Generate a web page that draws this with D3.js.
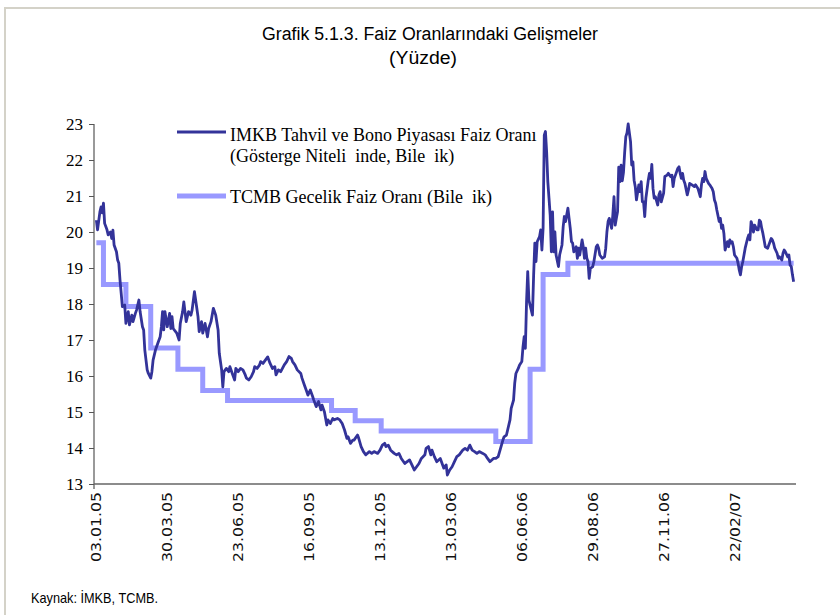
<!DOCTYPE html>
<meta charset="utf-8">
<html>

<head>
  <title>Grafik 5.1.3. Faiz Oranlarındaki Gelişmeler</title>
  <style>
    body { margin: 0; background: #fff; }
  </style>
</head>

<body>
  <!-- Load d3.js -->
  <script src="https://d3js.org/d3.v7.js"></script>

  <div id="my_dataviz"></div>

  <script>
    // x axis is a category axis of trading days (index from 03.01.05)
    var tickDays = [0, 60, 120, 180, 240, 300, 360, 420, 480, 540];
    var tickLabels = ["03.01.05", "30.03.05", "23.06.05", "16.09.05", "13.12.05",
      "13.03.06", "06.06.06", "29.08.06", "27.11.06", "22/02/07"];
    var yTicks = [13, 14, 15, 16, 17, 18, 19, 20, 21, 22, 23];

    // TCMB overnight rate (compounded): day where each level starts
    var tcmbDay = [0, 6, 25, 46, 69, 90, 111, 199, 219, 241, 338, 367, 378, 399, 590];
    var tcmbRate = [19.70, 18.54, 17.93, 16.78, 16.19, 15.60, 15.32, 15.04, 14.76, 14.47, 14.18, 16.19, 18.82, 19.13, 19.13];

    // IMKB bond market rate (benchmark, compounded)
    var imkbDay = [0, 1, 3, 4, 5, 6, 7, 9, 10, 12, 13, 14, 15, 17, 18, 19, 20, 21, 22, 24,
      25, 27, 28, 30, 31, 33, 34, 36, 37, 39, 40, 41, 43, 44, 46, 47, 48, 50, 52, 54,
      55, 56, 57, 58, 60, 62, 63, 64, 65, 68, 70, 71, 73, 74, 76, 78, 80, 81, 83, 85,
      86, 87, 89, 90, 92, 94, 95, 97, 99, 101, 103, 104, 106, 107, 108, 110, 112, 113, 115, 117,
      118, 120, 122, 124, 126, 127, 129, 131, 133, 134, 136, 138, 139, 141, 143, 145, 147, 149, 151, 152,
      154, 156, 159, 161, 163, 165, 166, 168, 170, 173, 174, 176, 178, 179, 181, 183, 184, 186, 188, 190,
      191, 193, 195, 196, 198, 200, 201, 204, 206, 208, 210, 212, 213, 215, 217, 218, 221, 222, 224, 226,
      228, 231, 233, 235, 238, 240, 242, 244, 245, 247, 249, 252, 254, 256, 258, 261, 263, 265, 267, 269,
      271, 273, 275, 278, 279, 281, 283, 284, 286, 288, 291, 293, 294, 296, 297, 299, 301, 303, 305, 307,
      310, 312, 314, 316, 318, 320, 322, 324, 327, 329, 331, 333, 336, 338, 340, 342, 344, 345, 347, 348,
      350, 351, 353, 354, 355, 357, 358, 360, 361, 362, 363, 364, 365, 366, 367, 369, 370, 371, 372, 373,
      375, 376, 377, 378, 379, 380, 381, 382, 383, 384, 385, 386, 387, 388, 389, 391, 392, 394, 395, 396,
      397, 399, 400, 401, 402, 403, 404, 406, 407, 408, 409, 411, 412, 413, 414, 415, 416, 417, 418, 420,
      421, 423, 424, 425, 426, 428, 430, 431, 432, 433, 434, 436, 437, 438, 439, 440, 441, 442, 443, 444,
      445, 446, 447, 448, 449, 450, 452, 453, 454, 455, 456, 457, 459, 460, 461, 462, 463, 464, 465, 467,
      468, 469, 470, 471, 472, 473, 475, 476, 477, 478, 480, 481, 483, 484, 486, 487, 488, 489, 490, 492,
      493, 494, 495, 496, 497, 498, 500, 501, 502, 504, 506, 507, 509, 511, 512, 513, 514, 515, 516, 518,
      519, 521, 522, 523, 524, 525, 527, 528, 529, 530, 531, 532, 534, 535, 536, 537, 538, 539, 540, 542,
      543, 544, 545, 546, 547, 548, 549, 551, 552, 553, 554, 555, 556, 557, 559, 560, 561, 562, 563, 564,
      565, 566, 568, 569, 570, 571, 572, 573, 574, 576, 577, 578, 579, 580, 581, 582, 583, 585, 586, 587,
      588, 589, 590];
    var imkbRate = [20.33, 20.06, 20.56, 20.70, 20.53, 20.80, 20.24, 20.06, 19.92, 20.00, 19.82, 20.05, 19.64, 19.45, 19.22, 19.13, 18.67, 18.30, 17.93, 17.97,
      17.46, 17.79, 17.42, 17.69, 17.51, 17.74, 17.83, 18.11, 17.79, 17.37, 17.28, 16.72, 16.17, 16.07, 15.94, 16.12, 16.44, 16.72, 16.91, 17.09,
      17.37, 17.79, 17.28, 17.79, 17.37, 17.74, 17.32, 17.65, 17.32, 17.19, 17.00, 17.46, 17.79, 18.06, 17.51, 17.79, 17.69, 17.83, 18.34, 17.88,
      17.65, 17.23, 17.51, 17.19, 17.46, 17.09, 17.32, 17.51, 17.88, 17.69, 17.28, 16.63, 16.17, 15.70, 16.12, 16.21, 16.12, 16.26, 16.07, 15.89,
      16.21, 16.12, 16.21, 16.17, 16.03, 15.94, 15.89, 15.98, 16.12, 16.26, 16.21, 16.30, 16.40, 16.35, 16.44, 16.53, 16.35, 16.21, 16.26, 16.03,
      16.17, 16.12, 16.31, 16.40, 16.54, 16.49, 16.40, 16.31, 16.17, 16.07, 15.94, 15.75, 15.57, 15.47, 15.61, 15.43, 15.33, 15.15, 15.29, 15.06,
      15.19, 15.00, 14.64, 14.78, 14.68, 14.82, 14.78, 14.82, 14.78, 14.68, 14.50, 14.27, 14.31, 14.13, 14.22, 14.22, 14.36, 14.27, 14.04, 13.90,
      13.81, 13.90, 13.85, 13.90, 13.85, 13.94, 14.08, 14.13, 14.04, 14.08, 13.94, 13.85, 13.81, 13.85, 13.71, 13.57, 13.62, 13.67, 13.53, 13.39,
      13.48, 13.57, 13.71, 13.81, 13.99, 14.04, 13.81, 13.94, 13.76, 13.62, 13.71, 13.53, 13.44, 13.53, 13.25, 13.39, 13.48, 13.62, 13.76, 13.81,
      13.94, 13.99, 13.94, 14.08, 13.94, 13.90, 13.85, 13.90, 13.85, 13.81, 13.71, 13.62, 13.71, 13.71, 13.76, 13.99, 14.22, 14.31, 14.36, 14.50,
      14.78, 15.10, 15.33, 15.80, 16.07, 16.21, 16.30, 16.40, 16.81, 17.09, 16.77, 18.06, 18.90, 18.11, 17.97, 17.69, 18.81, 19.69, 19.18, 19.73,
      19.87, 20.06, 19.50, 20.10, 22.69, 22.79, 22.23, 21.40, 20.94, 20.47, 19.45, 20.56, 19.45, 20.00, 19.36, 19.04, 19.36, 19.64, 20.15, 20.43,
      20.29, 20.66, 20.38, 20.10, 19.73, 19.69, 19.45, 19.59, 19.27, 19.55, 19.36, 19.78, 19.59, 19.27, 19.55, 19.27, 19.18, 18.71, 18.99, 19.04,
      19.18, 19.59, 19.64, 19.55, 19.36, 19.27, 19.31, 19.55, 20.00, 20.29, 20.38, 20.10, 20.47, 20.98, 20.19, 20.38, 20.56, 21.80, 21.40, 21.86,
      21.42, 21.65, 22.20, 22.65, 22.75, 23.00, 22.51, 21.86, 21.95, 21.44, 21.26, 20.89, 21.31, 21.12, 21.40, 20.84, 20.84, 20.43, 20.94, 21.44,
      21.63, 21.49, 21.88, 21.21, 20.94, 20.98, 20.75, 21.03, 21.12, 20.84, 21.08, 21.54, 21.58, 21.63, 21.54, 21.58, 21.26, 21.49, 21.58, 21.77,
      21.81, 21.63, 21.49, 21.63, 21.44, 21.35, 21.03, 21.17, 21.35, 21.31, 21.26, 21.31, 21.21, 20.98, 21.31, 21.49, 21.40, 21.68, 21.49, 21.35,
      21.31, 21.21, 21.12, 20.89, 20.80, 20.61, 20.29, 20.38, 20.10, 20.19, 19.96, 19.50, 19.73, 19.59, 19.78, 19.69, 19.73, 19.59, 19.36, 19.27,
      19.13, 18.94, 18.81, 19.04, 19.18, 19.36, 19.55, 19.82, 19.92, 19.78, 20.29, 20.19, 20.00, 20.19, 20.06, 20.06, 20.33, 20.29, 20.10, 19.96,
      19.78, 19.59, 19.55, 19.64, 19.73, 19.82, 19.78, 19.69, 19.55, 19.41, 19.27, 19.31, 19.27, 19.22, 19.41, 19.50, 19.45, 19.31, 19.36, 19.08,
      19.04, 18.81, 18.62];

    var width = 840, height = 615;

    var svg = d3.select("#my_dataviz")
      .append("svg")
      .attr("width", width)
      .attr("height", height)
      .style("display", "block");

    // outer frame of the page
    svg.append("rect")
      .attr("x", 5).attr("y", 8)
      .attr("width", 840).attr("height", 620)
      .attr("fill", "none")
      .attr("stroke", "#d4d2c8")
      .attr("stroke-width", 2);

    // scales
    var x = d3.scaleLinear().domain([-2, 592]).range([94, 796]);
    var y = d3.scaleLinear().domain([13, 23]).range([484, 124]);

    var narrowFont = "'Liberation Sans Narrow', 'Arial Narrow', 'Liberation Sans', sans-serif";

    // title
    svg.append("text")
      .attr("x", 430).attr("y", 40)
      .attr("text-anchor", "middle")
      .style("font-family", narrowFont)
      .style("font-size", "18px")
      .attr("textLength", 336).attr("lengthAdjust", "spacingAndGlyphs")
      .text("Grafik 5.1.3. Faiz Oranlarındaki Gelişmeler");
    svg.append("text")
      .attr("x", 423).attr("y", 64)
      .attr("text-anchor", "middle")
      .style("font-family", narrowFont)
      .style("font-size", "18px")
      .attr("textLength", 68).attr("lengthAdjust", "spacingAndGlyphs")
      .text("(Yüzde)");

    // Y axis
    var yAxis = svg.append("g")
      .attr("transform", "translate(94,0)")
      .call(d3.axisLeft(y).tickValues(yTicks).tickSize(5).tickPadding(6).tickFormat(d3.format("d")));
    yAxis.select(".domain").remove();
    yAxis.selectAll("line").attr("stroke", "#555");
    yAxis.selectAll("text")
      .style("font-family", "'Liberation Serif', 'Times New Roman', serif")
      .style("font-size", "17px")
      .attr("fill", "#000");
    svg.append("line")
      .attr("x1", 94).attr("x2", 94)
      .attr("y1", y(23)).attr("y2", y(13) + 5)
      .attr("stroke", "#555").attr("stroke-width", 1.2);

    // X axis
    svg.append("line")
      .attr("x1", 94).attr("x2", 796)
      .attr("y1", y(13)).attr("y2", y(13))
      .attr("stroke", "#666").attr("stroke-width", 1.5);
    svg.append("g")
      .selectAll("text")
      .data(tickDays)
      .enter()
      .append("text")
      .attr("transform", function (d) { return "translate(" + (x(d) + 5) + "," + (y(13) + 8) + ") rotate(-90)"; })
      .attr("text-anchor", "end")
      .style("font-family", "'DejaVu Sans', Verdana, sans-serif")
      .style("font-size", "14px")
      .attr("fill", "#111")
      .attr("textLength", 70).attr("lengthAdjust", "spacingAndGlyphs")
      .text(function (d, i) { return tickLabels[i]; });

    // TCMB step line
    var tcmbData = tcmbDay.map(function (d, i) { return { x: d, y: tcmbRate[i] }; });
    svg.append("path")
      .datum(tcmbData)
      .attr("fill", "none")
      .attr("stroke", "#9999ff")
      .attr("stroke-width", 5)
      .attr("d", d3.line()
        .curve(d3.curveStepAfter)
        .x(function (d) { return x(d.x); })
        .y(function (d) { return y(d.y); }));

    // IMKB line
    var imkbData = imkbDay.map(function (d, i) { return { x: d, y: imkbRate[i] }; });
    svg.append("path")
      .datum(imkbData)
      .attr("fill", "none")
      .attr("stroke", "#333399")
      .attr("stroke-width", 2.8)
      .attr("stroke-linejoin", "round")
      .attr("d", d3.line()
        .x(function (d) { return x(d.x); })
        .y(function (d) { return y(d.y); }));

    // legend
    var legendFont = "'Liberation Serif', 'Times New Roman', serif";
    svg.append("line")
      .attr("x1", 177).attr("x2", 226).attr("y1", 132).attr("y2", 132)
      .attr("stroke", "#333399").attr("stroke-width", 2.8);
    svg.append("text")
      .attr("x", 230).attr("y", 141)
      .style("font-family", legendFont).style("font-size", "18px")
      .text("IMKB Tahvil ve Bono Piyasası Faiz Oranı");
    svg.append("text")
      .attr("x", 230).attr("y", 162)
      .style("font-family", legendFont).style("font-size", "18px")
      .style("white-space", "pre")
      .text("(Gösterge Niteli  inde, Bile  ik)");
    svg.append("line")
      .attr("x1", 177).attr("x2", 226).attr("y1", 196).attr("y2", 196)
      .attr("stroke", "#9999ff").attr("stroke-width", 5);
    svg.append("text")
      .attr("x", 230).attr("y", 203)
      .style("font-family", legendFont).style("font-size", "18px")
      .style("white-space", "pre")
      .text("TCMB Gecelik Faiz Oranı (Bile  ik)");

    // source note
    svg.append("text")
      .attr("x", 31).attr("y", 603)
      .style("font-family", narrowFont)
      .style("font-size", "15px")
      .attr("textLength", 127).attr("lengthAdjust", "spacingAndGlyphs")
      .text("Kaynak: İMKB, TCMB.");
  </script>
</body>

</html>
